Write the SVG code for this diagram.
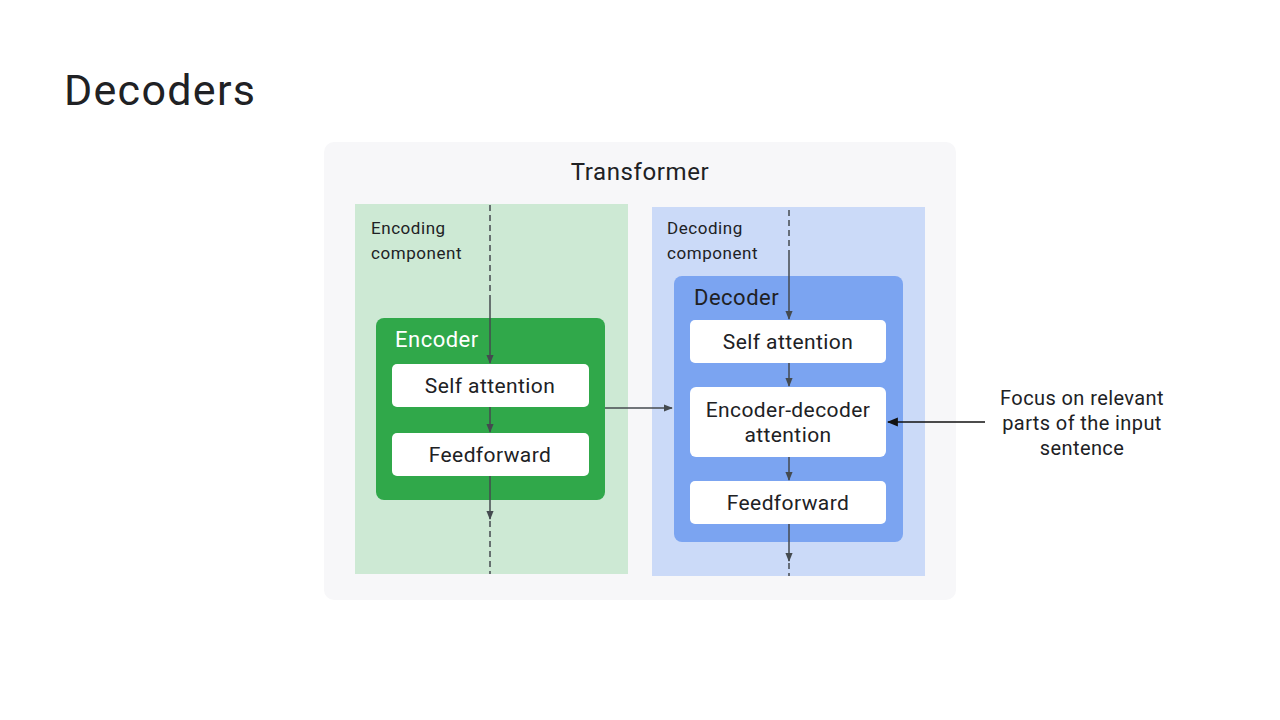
<svg xmlns="http://www.w3.org/2000/svg" width="1280" height="720" viewBox="0 0 1280 720">
<defs>
<style>
text{font-family:Roboto,"Liberation Sans",sans-serif;fill:#202124}
.box{fill:#ffffff}
.lbl{font-size:21px;letter-spacing:0.4px;text-anchor:middle}
.small{font-size:17px;letter-spacing:0.55px}
.note{font-size:20px;letter-spacing:0.4px;text-anchor:middle}
.ln{stroke:#444a4f;stroke-width:1.5;fill:none}
.dash{stroke:#444a4f;stroke-width:1.5;stroke-dasharray:6 4;fill:none}
</style>
<marker id="ah" viewBox="0 0 10 10" refX="9" refY="5" markerWidth="9" markerHeight="9" orient="auto" markerUnits="userSpaceOnUse">
<path d="M0,1 L10,5 L0,9 z" fill="#444a4f"/>
</marker>
<marker id="ahk" viewBox="0 0 10 10" refX="9" refY="5" markerWidth="11" markerHeight="11" orient="auto" markerUnits="userSpaceOnUse">
<path d="M0,1 L10,5 L0,9 z" fill="#111"/>
</marker>
</defs>
<rect width="1280" height="720" fill="#ffffff"/>
<text x="64" y="105" font-size="43" letter-spacing="1.3">Decoders</text>

<g id="transformer">
<rect x="324" y="142" width="632" height="458" rx="10" fill="#f7f7f9"/>
<text x="640" y="180" font-size="24" letter-spacing="0.6" text-anchor="middle">Transformer</text>
</g>

<g id="encoding-component">
<rect x="355" y="204" width="273" height="370" fill="#cde9d4"/>
<text class="small" x="371" y="234">Encoding</text>
<text class="small" x="371" y="259">component</text>
</g>

<g id="decoding-component">
<rect x="652" y="207" width="273" height="369" fill="#cbdaf8"/>
<text class="small" x="667" y="234">Decoding</text>
<text class="small" x="667" y="259">component</text>
</g>

<g id="encoder">
<rect x="376" y="318" width="229" height="182" rx="8" fill="#30a84a"/>
<text x="395" y="347" font-size="22" letter-spacing="0.5" style="fill:#ffffff">Encoder</text>
</g>
<g id="enc-self-attention">
<rect class="box" x="392" y="364" width="197" height="43" rx="5"/>
<text class="lbl" x="490" y="393">Self attention</text>
</g>
<g id="enc-feedforward">
<rect class="box" x="392" y="433" width="197" height="43" rx="5"/>
<text class="lbl" x="490" y="462">Feedforward</text>
</g>

<g id="decoder">
<rect x="674" y="276" width="229" height="266" rx="8" fill="#7ba4f1"/>
<text x="694" y="305" font-size="22" letter-spacing="0.5">Decoder</text>
</g>
<g id="dec-self-attention">
<rect class="box" x="690" y="320" width="196" height="43" rx="5"/>
<text class="lbl" x="788" y="349">Self attention</text>
</g>
<g id="dec-enc-dec-attention">
<rect class="box" x="690" y="387" width="196" height="70" rx="6"/>
<text class="lbl" x="788" y="417">Encoder-decoder</text>
<text class="lbl" x="788" y="442">attention</text>
</g>
<g id="dec-feedforward">
<rect class="box" x="690" y="481" width="196" height="43" rx="5"/>
<text class="lbl" x="788" y="510">Feedforward</text>
</g>

<g id="note">
<text class="note" x="1082" y="405">Focus on relevant</text>
<text class="note" x="1082" y="430">parts of the input</text>
<text class="note" x="1082" y="455">sentence</text>
</g>

<g id="connectors">
<path class="dash" d="M490,205 V298"/>
<path class="ln" d="M490,298 V363" marker-end="url(#ah)"/>
<path class="ln" d="M490,407 V432" marker-end="url(#ah)"/>
<path class="ln" d="M490,476 V519" marker-end="url(#ah)"/>
<path class="dash" d="M490,521 V574"/>
<path class="dash" d="M789,210 V256"/>
<path class="ln" d="M789,256 V319" marker-end="url(#ah)"/>
<path class="ln" d="M789,363 V386" marker-end="url(#ah)"/>
<path class="ln" d="M789,457 V480" marker-end="url(#ah)"/>
<path class="ln" d="M789,524 V561" marker-end="url(#ah)"/>
<path class="dash" d="M789,563 V576"/>
<path class="ln" d="M605,408 H672" marker-end="url(#ah)"/>
<path d="M985,422 H888" stroke="#111" stroke-width="1.5" fill="none" marker-end="url(#ahk)"/>
</g>
</svg>
